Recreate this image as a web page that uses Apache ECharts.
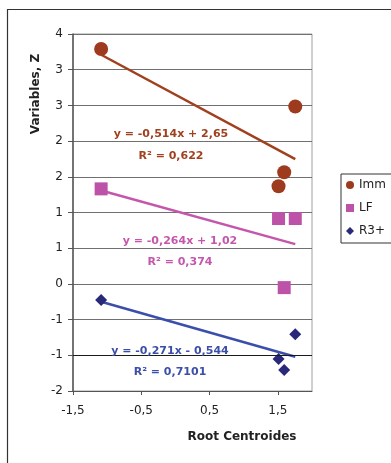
<!DOCTYPE html>
<html>
<head>
<meta charset="utf-8">
<script src="https://cdn.jsdelivr.net/npm/echarts@6/dist/echarts.min.js"></script>
<style>html,body{margin:0;padding:0;background:#fff;}#c{width:391px;height:463px;}</style>
</head>
<body>
<div id="c"></div>
<script>
// Root centroid of each group (x)
const centroids = [-1.088, 1.51, 1.593, 1.755];
// Variable Z values per series
const immValues = [3.29, 1.367, 1.563, 2.485];
const lfValues  = [1.331, 0.916, -0.052, 0.916];
const r3Values  = [-0.225, -1.053, -1.207, -0.704];
const seriesNames = ['Imm', 'LF', 'R3+'];
// Trend line equations shown on chart
const slopes = [-0.514, -0.264, -0.271];
const intercepts = [2.65, 1.02, -0.544];
const r2Values = ['0,622', '0,374', '0,7101'];
const eqTexts = ['y = -0,514x + 2,65', 'y = -0,264x + 1,02', 'y = -0,271x - 0,544'];
// x tick labels
const xTicks = [-1.5, -0.5, 0.5, 1.5];

const markerColors = ['#9E3B1F', '#BD53A9', '#2A2878'];
const lineColors = ['#A0401E', '#C457AC', '#3B4FAA'];
const symbols = ['circle', 'rect', 'diamond'];
const symbolSizes = [14, 13, 12];
const FONT = 'DejaVu Sans';

const allValues = [immValues, lfValues, r3Values];
const xmin = Math.min(...centroids), xmax = Math.max(...centroids);

const series = [];
allValues.forEach((vals, i) => {
  series.push({
    name: seriesNames[i], type: 'scatter', z: 3,
    symbol: symbols[i], symbolSize: symbolSizes[i],
    itemStyle: { color: markerColors[i], opacity: 1 },
    data: centroids.map((x, k) => [x, vals[k]])
  });
});
allValues.forEach((vals, i) => {
  series.push({
    name: seriesNames[i] + ' trend', type: 'line', z: 2, symbol: 'none', silent: true,
    lineStyle: { color: lineColors[i], width: 2.5 },
    data: [[xmin, slopes[i] * xmin + intercepts[i]], [xmax, slopes[i] * xmax + intercepts[i]]]
  });
});
// darker gridline at -1
series[5].markLine = {
  silent: true, symbol: 'none', label: { show: false },
  lineStyle: { color: '#1a1a1a', width: 1, type: 'solid' },
  data: [{ yAxis: -1 }]
};

const eqPos = [[171, 134, 156], [180, 241, 262], [170, 351, 372]];
const graphics = [
  { type: 'rect', shape: { x: 7.5, y: 9.5, width: 420, height: 480 },
    style: { fill: 'none', stroke: '#333', lineWidth: 1.2 }, z: 100, silent: true },
  { type: 'text', x: 36, y: 94, rotation: Math.PI / 2,
    style: { text: 'Variables, Z', font: 'bold 12px "' + FONT + '"', fill: '#222', align: 'center', verticalAlign: 'middle' } },
  { type: 'text', x: 242, y: 437,
    style: { text: 'Root Centroides', font: 'bold 12px "' + FONT + '"', fill: '#222', align: 'center', verticalAlign: 'middle' } }
];
eqTexts.forEach((t, i) => {
  graphics.push({ type: 'text', x: eqPos[i][0], y: eqPos[i][1], z: 10,
    style: { text: t, font: 'bold 11px "' + FONT + '"', fill: lineColors[i], align: 'center', verticalAlign: 'middle' } });
  graphics.push({ type: 'text', x: eqPos[i][0], y: eqPos[i][2], z: 10,
    style: { text: 'R² = ' + r2Values[i], font: 'bold 11px "' + FONT + '"', fill: lineColors[i], align: 'center', verticalAlign: 'middle' } });
});

const chart = echarts.init(document.getElementById('c'), null, { renderer: 'canvas' });
chart.setOption({
  animation: false,
  backgroundColor: '#fff',
  textStyle: { fontFamily: FONT },
  grid: { left: 73, top: 34, right: 79, bottom: 72, show: true, borderColor: '#a0a0a0', borderWidth: 1, containLabel: false },
  xAxis: {
    type: 'value', min: -1.5, max: 2, interval: 1,
    axisLine: { show: true, onZero: false, lineStyle: { color: '#555', width: 1 } },
    axisTick: { show: true, inside: false, length: 4, customValues: xTicks, lineStyle: { color: '#555' } },
    splitLine: { show: false },
    axisLabel: { margin: 14, fontSize: 12, fontFamily: FONT, color: '#222', customValues: xTicks,
      formatter: v => String(v).replace('.', ',') }
  },
  yAxis: {
    type: 'value', min: -1.5, max: 3.5, interval: 0.5,
    axisLine: { show: true, onZero: false, lineStyle: { color: '#555', width: 1.5 } },
    axisTick: { show: true, inside: false, length: 5, lineStyle: { color: '#555' } },
    splitLine: { show: true, lineStyle: { color: '#707070', width: 1 } },
    axisLabel: { margin: 10, fontSize: 12, fontFamily: FONT, color: '#222',
      formatter: v => { const r = Math.sign(v) * Math.round(Math.abs(v)); return String(r === 0 ? 0 : r); } }
  },
  legend: {
    orient: 'vertical', left: 341, top: 174,
    data: seriesNames.map((n, i) => ({ name: n, icon: symbols[i] })),
    itemWidth: 8, itemHeight: 8, itemGap: 11,
    borderColor: '#333', borderWidth: 1, padding: [5, 40, 6, 5],
    textStyle: { fontSize: 12, fontFamily: FONT, color: '#222' },
    selectedMode: false
  },
  graphic: graphics,
  series: series
});
</script>
</body>
</html>
